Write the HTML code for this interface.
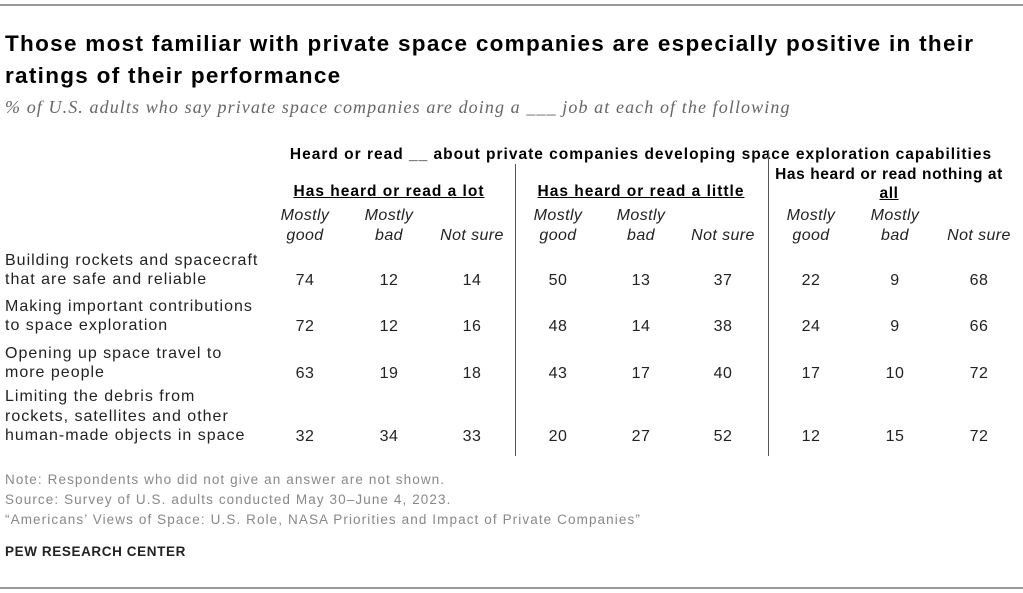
<!DOCTYPE html>
<html><head><meta charset="utf-8"><style>
body{margin:0;width:1023px;height:593px;background:#fff;font-family:"Liberation Sans",Arial,sans-serif;color:#000;position:relative;overflow:hidden}
.a{position:absolute;white-space:nowrap}
.c{transform:translateX(-50%);text-align:center}
.t{font-weight:bold;font-size:22.5px;left:5px;letter-spacing:1.3px}
.sub{font-family:"Liberation Serif",serif;font-style:italic;color:#666;font-size:18px;left:5px;top:97px;letter-spacing:1.1px}
.gh{font-weight:bold;font-size:15.5px;text-decoration:underline;letter-spacing:1px}
.ch{font-style:italic;font-size:16px;line-height:20px;color:#222;letter-spacing:0.4px}
.rl{font-size:16px;line-height:19.5px;left:5px;color:#222;letter-spacing:1px}
.n{font-size:16px;color:#222;letter-spacing:0.5px}
.note{font-size:13.5px;color:#888;left:5px;letter-spacing:1.1px}
.vl{position:absolute;width:1px;background:#555}
.hl{position:absolute;left:0;width:1023px;height:2px;background:#999}
</style></head><body>
<div class="hl" style="top:4px"></div>
<div class="a t" style="top:28px;line-height:32px">Those most familiar with private space companies are especially positive in their<br>ratings of their performance</div>
<div class="a sub">% of U.S. adults who say private space companies are doing a ___ job at each of the following</div>
<div class="a c" style="left:641px;top:146px;font-weight:bold;font-size:15.5px;letter-spacing:1px">Heard or read __ about private companies developing space exploration capabilities</div>
<div class="vl" style="left:515px;top:164px;height:292px"></div>
<div class="vl" style="left:768px;top:150px;height:306px"></div>
<div class="a c gh" style="left:389px;top:183px">Has heard or read a lot</div>
<div class="a c gh" style="left:641px;top:183px">Has heard or read a little</div>
<div class="a c" style="left:889px;top:165px;font-weight:bold;font-size:15.5px;line-height:19px;letter-spacing:0.6px">Has heard or read nothing at<br><u>all</u></div>
<div id="tbl"></div>
<div class="a note" style="top:472px">Note: Respondents who did not give an answer are not shown.</div>
<div class="a note" style="top:492px">Source: Survey of U.S. adults conducted May 30–June 4, 2023.</div>
<div class="a note" style="top:512px">“Americans’ Views of Space: U.S. Role, NASA Priorities and Impact of Private Companies”</div>
<div class="a" style="left:5px;top:544px;font-weight:bold;font-size:13.5px;color:#222;letter-spacing:0.6px">PEW RESEARCH CENTER</div>
<div class="hl" style="top:587px"></div>
<script>
const rowLabels=["Building rockets and spacecraft<br>that are safe and reliable","Making important contributions<br>to space exploration","Opening up space travel to<br>more people","Limiting the debris from<br>rockets, satellites and other<br>human-made objects in space"];
const colLabels=["Mostly<br>good","Mostly<br>bad","Not sure"];
const lotValues=[[74,12,14],[72,12,16],[63,19,18],[32,34,33]];
const littleValues=[[50,13,37],[48,14,38],[43,17,40],[20,27,52]];
const nothingValues=[[22,9,68],[24,9,66],[17,10,72],[12,15,72]];
const groups=[lotValues,littleValues,nothingValues];
const colX=[[305,389,472],[558,641,723],[811,895,979]];
const rowY=[272,318,365,428];
const tbl=document.getElementById('tbl');
function add(cls,html,l,t,name){const d=document.createElement('div');d.className='a '+cls;d.innerHTML=html;d.style.left=l+'px';d.style.top=t+'px';


tbl.appendChild(d);return d;}
groups.forEach((g,gi)=>{colLabels.forEach((c,ci)=>{const isOne=c.indexOf('<br>')<0;add('c ch',c,colX[gi][ci],isOne?226:206,'column-header');});
g.forEach((r,ri)=>r.forEach((v,ci)=>add('c n',v,colX[gi][ci],rowY[ri],'value-cell')));});
rowLabels.forEach((r,ri)=>{const lines=r.split('<br>').length;add('rl',r,5,rowY[ri]-(lines-1)*19.5+1-3,'row-label');});
</script>
</body></html>
